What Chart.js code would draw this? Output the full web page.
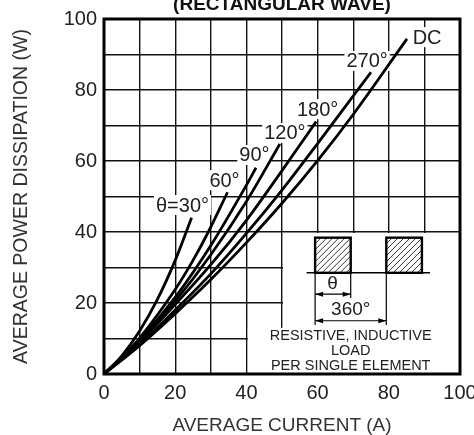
<!DOCTYPE html>
<html>
<head>
<meta charset="utf-8">
<script src="https://cdn.jsdelivr.net/npm/chart.js@4.4.0/dist/chart.umd.min.js"></script>
<style>
  html, body { margin: 0; padding: 0; background: #fff; }
</style>
</head>
<body>
<canvas id="powerChart" width="474" height="435"></canvas>
<script>
const FONT = '"Liberation Sans", Arial, Helvetica, sans-serif';

// conduction angle curves
const curveNames = ['θ=30°', '60°', '90°', '120°', '180°', '270°', 'DC'];

const current30 = [0, 5, 10, 15, 20, 24.6];
const power30   = [0, 5.1, 12.1, 21.0, 32.0, 44.0];

const current60 = [0, 5, 10, 20, 25, 29.3, 34.7];
const power60   = [0, 4.6, 10.1, 23.8, 32.0, 40.0, 51.2];

const current90 = [0, 10, 20, 30, 40, 42.7];
const power90   = [0, 9.6, 21.6, 36.2, 53.2, 58.1];

const current120 = [0, 10, 20, 30, 40, 49.4];
const power120   = [0, 9.3, 20.5, 33.6, 48.6, 64.8];

const current180 = [0, 10, 20, 30, 40, 50, 59.6];
const power180   = [0, 9.0, 19.6, 30.8, 43.3, 57.3, 71.1];

const current270 = [0, 10, 20, 30, 40, 50, 60, 70, 75];
const power270   = [0, 8.3, 18.0, 28.2, 39.6, 51.8, 64.9, 78.3, 85.0];

const currentDC = [0, 10, 20, 30, 40, 50, 60, 70, 85.1];
const powerDC   = [0, 8.0, 17.0, 26.6, 37.0, 48.1, 60.1, 73.1, 94.4];

const currents = [current30, current60, current90, current120, current180, current270, currentDC];
const powers = [power30, power60, power90, power120, power180, power270, powerDC];

// where each curve name sits (left edge x, middle y) in axis units
const labelSpots = [[14.6, 47.6], [29.6, 54.6], [38.0, 61.7], [45.0, 67.9], [54.2, 74.6], [68.1, 88.2], [86.7, 94.9]];

const datasets = curveNames.map((name, i) => ({
    label: name,
    data: currents[i].map((c, j) => ({ x: c, y: powers[i][j] })),
    borderColor: '#000',
    borderWidth: 2.8,
    pointRadius: 0,
    fill: false,
    cubicInterpolationMode: 'monotone'
}));

function arrow(ctx, x1, x2, yy) {
    ctx.beginPath();
    ctx.moveTo(x1, yy);
    ctx.lineTo(x2, yy);
    ctx.stroke();
    [[x1, 1], [x2, -1]].forEach(([ax, d]) => {
        ctx.beginPath();
        ctx.moveTo(ax, yy);
        ctx.lineTo(ax + d * 8, yy - 2.5);
        ctx.lineTo(ax + d * 8, yy + 2.5);
        ctx.closePath();
        ctx.fill();
    });
}

const decor = {
    id: 'decor',
    beforeDatasetsDraw(chart) {
        const ctx = chart.ctx;
        const px = v => chart.scales.x.getPixelForValue(v);
        const py = v => chart.scales.y.getPixelForValue(v);
        ctx.save();

        // blank the grid behind the waveform sketch
        ctx.fillStyle = '#fff';
        let l = px(50) + 1, r = px(100) - 1, t = py(40) + 1, b = py(0) - 1;
        ctx.fillRect(l, t, r - l, b - t);
        l = px(40.4); t = py(13);
        ctx.fillRect(l, t, px(50) + 2 - l, b - t);

        // waveform: two hatched pulses on a base line
        ctx.strokeStyle = '#000';
        ctx.fillStyle = '#000';
        ctx.lineWidth = 1.5;
        ctx.beginPath();
        ctx.moveTo(px(56.9), py(28.5));
        ctx.lineTo(px(91.6), py(28.5));
        ctx.stroke();
        [59.3, 79.3].forEach(x0 => {
            const rl = px(x0), rr = px(x0 + 10), rt = py(38.4), rb = py(28.5);
            ctx.save();
            ctx.beginPath();
            ctx.rect(rl, rt, rr - rl, rb - rt);
            ctx.clip();
            ctx.lineWidth = 0.8;
            for (let k = -(rb - rt); k < rr - rl; k += 6) {
                ctx.beginPath();
                ctx.moveTo(rl + k, rb);
                ctx.lineTo(rl + k + (rb - rt), rt);
                ctx.stroke();
            }
            ctx.restore();
            ctx.lineWidth = 2.4;
            ctx.strokeRect(rl, rt, rr - rl, rb - rt);
        });

        // dimension lines
        ctx.lineWidth = 1.2;
        [[59.3, 13.8], [69.3, 21.4], [79.3, 13.8]].forEach(([xx, yb]) => {
            ctx.beginPath();
            ctx.moveTo(px(xx), py(28.5));
            ctx.lineTo(px(xx), py(yb));
            ctx.stroke();
        });
        arrow(ctx, px(59.3), px(69.3), py(22.5));
        arrow(ctx, px(59.3), px(79.3), py(15.0));

        ctx.textAlign = 'center';
        ctx.textBaseline = 'middle';
        ctx.fillStyle = '#222';
        ctx.font = '19px ' + FONT;
        ctx.fillText('θ', px(64.2), py(25.3));
        ctx.fillText('360°', px(69.3), py(18.0));
        ctx.font = '14.5px ' + FONT;
        ctx.fillText('RESISTIVE, INDUCTIVE', px(69.3), py(10.6));
        ctx.fillText('LOAD', px(69.3), py(6.4));
        ctx.fillText('PER SINGLE ELEMENT', px(69.3), py(2.2));

        // curve names on white patches
        ctx.font = '20px ' + FONT;
        ctx.textAlign = 'left';
        curveNames.forEach((name, i) => {
            const lx = px(labelSpots[i][0]), ly = py(labelSpots[i][1]);
            const w = ctx.measureText(name).width;
            ctx.fillStyle = '#fff';
            ctx.fillRect(lx - 2, ly - 10, w + 4, 20);
            ctx.fillStyle = '#222';
            ctx.fillText(name, lx, ly + 1);
        });
        ctx.restore();
    },
    afterDatasetsDraw(chart) {
        const { ctx, chartArea: a } = chart;
        ctx.save();
        ctx.strokeStyle = '#000';
        ctx.lineWidth = 3;
        ctx.strokeRect(a.left, a.top, a.right - a.left, a.bottom - a.top);
        ctx.font = 'bold 19px ' + FONT;
        ctx.fillStyle = '#111';
        ctx.textAlign = 'center';
        ctx.textBaseline = 'alphabetic';
        ctx.fillText('(RECTANGULAR WAVE)', (a.left + a.right) / 2, 10);
        ctx.restore();
    }
};

const config = {
    type: 'line',
    data: { datasets: datasets },
    options: {
        responsive: false,
        animation: false,
        devicePixelRatio: 1,
        layout: { padding: { left: 0, right: 14, top: 19, bottom: 0 } },
        plugins: {
            legend: { display: false },
            tooltip: { enabled: false }
        },
        scales: {
            x: {
                type: 'linear',
                min: 0,
                max: 100,
                ticks: {
                    stepSize: 10,
                    autoSkip: false,
                    maxRotation: 0,
                    padding: 7,
                    color: '#222',
                    font: { family: FONT, size: 20 },
                    callback: v => (v % 20 === 0 ? v : '')
                },
                grid: { color: '#111', lineWidth: 1.4, drawTicks: false },
                border: { display: false },
                title: {
                    display: true,
                    text: 'AVERAGE CURRENT (A)',
                    color: '#333',
                    font: { family: FONT, size: 19, lineHeight: 1 },
                    padding: { top: 0, bottom: 0 }
                },
                afterFit: s => { s.height = 61; s.paddingLeft = 0; s.paddingRight = 0; }
            },
            y: {
                type: 'linear',
                min: 0,
                max: 100,
                ticks: {
                    stepSize: 10,
                    autoSkip: false,
                    padding: 7,
                    color: '#222',
                    font: { family: FONT, size: 20 },
                    callback: v => (v % 20 === 0 ? v : '')
                },
                grid: { color: '#111', lineWidth: 1.4, drawTicks: false },
                border: { display: false },
                title: {
                    display: true,
                    text: 'AVERAGE POWER DISSIPATION (W)',
                    color: '#333',
                    font: { family: FONT, size: 19.5, lineHeight: 1 },
                    padding: { top: 12, bottom: 0 }
                },
                afterFit: s => { s.width = 104; s.paddingTop = 0; s.paddingBottom = 0; }
            }
        }
    },
    plugins: [decor]
};

var powerChart = new Chart(document.getElementById('powerChart'), config);
</script>
</body>
</html>
